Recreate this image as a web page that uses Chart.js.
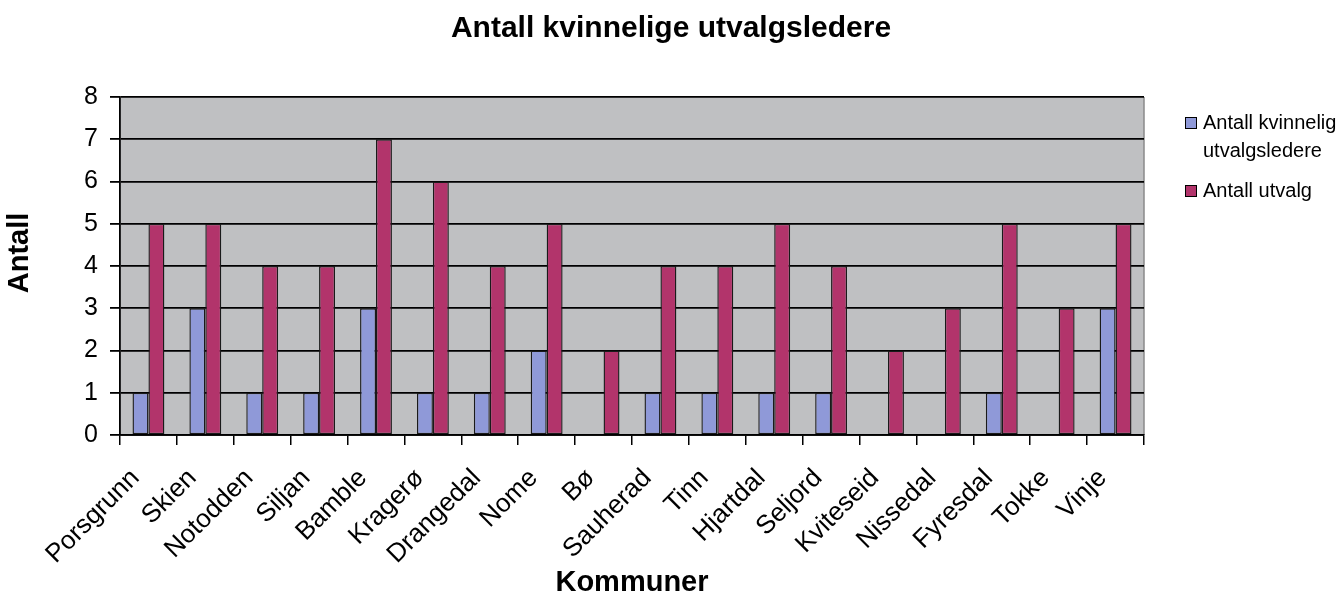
<!DOCTYPE html>
<html>
<head>
<meta charset="utf-8">
<script src="https://cdn.jsdelivr.net/npm/chart.js@4/dist/chart.umd.min.js"></script>
<style>
  html, body { margin: 0; padding: 0; background: #fff; }
  #wrap { position: relative; width: 1342px; height: 598px; }
  #legend { position: absolute; left: 1184px; top: 108px; font-family: "Liberation Sans", Arial, sans-serif; font-size: 20px; color: #000; line-height: 28px; }
  .item { position: relative; padding-left: 19px; margin-bottom: 12px; }
  .box { position: absolute; left: 1px; top: 9px; width: 10px; height: 10px; border: 1px solid #000; }
</style>
</head>
<body>
<div id="wrap">
  <canvas id="c" width="1342" height="598"></canvas>
  <div id="legend"></div>
</div>
<script>
const categories = ["Porsgrunn","Skien","Notodden","Siljan","Bamble","Kragerø","Drangedal","Nome","Bø","Sauherad","Tinn","Hjartdal","Seljord","Kviteseid","Nissedal","Fyresdal","Tokke","Vinje"];
const seriesNames = ["Antall kvinnelig utvalgsledere", "Antall utvalg"];
const kvinneligeLedere = [1,3,1,1,3,1,1,2,0,1,1,1,1,0,0,1,0,3];
const antallUtvalg = [5,5,4,4,7,6,4,5,2,4,4,5,4,2,3,5,3,5];
const yTicks = [0,1,2,3,4,5,6,7,8];

const colors = ["#8f99d8", "#b2346b"];
const legendLines = [["Antall kvinnelig", "utvalgsledere"], ["Antall utvalg"]];
const yTitle = 'Antall';

const plotBg = {
  id: 'plotBg',
  beforeInit(chart) {
    // reserve room on the right for the legend without shifting the centred title
    Chart.layouts.addBox(chart, {
      position: 'right', weight: 100, fullSize: false, options: {},
      left: 0, top: 0, right: 0, bottom: 0, width: 0, height: 0,
      update(maxW, maxH) { this.width = 198; this.height = maxH; },
      isHorizontal() { return false; },
      draw() {}
    });
  },
  beforeDraw(chart) {
    const {ctx, chartArea: a} = chart;
    ctx.save();
    ctx.fillStyle = '#bfc0c2';
    ctx.fillRect(a.left, a.top, a.right - a.left, a.bottom - a.top);
    ctx.strokeStyle = '#8a8a8a';
    ctx.lineWidth = 1.5;
    ctx.beginPath();
    ctx.moveTo(a.right, a.top); ctx.lineTo(a.right, a.bottom);
    ctx.stroke();
    ctx.restore();
  },
  afterDraw(chart) {
    // vertical axis title, placed slightly above the plot's centre as in the original
    const {ctx, chartArea: a} = chart;
    ctx.save();
    ctx.translate(20, (a.top + a.bottom) / 2 - 13);
    ctx.rotate(-Math.PI / 2);
    ctx.font = 'bold 29px "Liberation Sans", Arial, sans-serif';
    ctx.fillStyle = '#000';
    ctx.textAlign = 'center';
    ctx.textBaseline = 'middle';
    ctx.fillText(yTitle, 0, 0);
    ctx.restore();
  }
};

Chart.defaults.font.family = '"Liberation Sans", Arial, sans-serif';
Chart.defaults.color = '#000';

new Chart(document.getElementById('c'), {
  type: 'bar',
  data: {
    labels: categories,
    datasets: [
      { label: seriesNames[0], data: kvinneligeLedere, backgroundColor: colors[0], borderColor: '#1a1a1a', borderWidth: 1.4, borderSkipped: false },
      { label: seriesNames[1], data: antallUtvalg, backgroundColor: colors[1], borderColor: '#1a1a1a', borderWidth: 1.4, borderSkipped: false }
    ]
  },
  options: {
    responsive: false,
    animation: false,
    categoryPercentage: 0.56,
    barPercentage: 1.0,
    layout: { padding: { left: 0, right: 0, top: 4, bottom: 0 } },
    plugins: {
      legend: { display: false },
      tooltip: { enabled: false },
      title: { display: true, text: 'Antall kvinnelige utvalgsledere', font: { size: 30, weight: 'bold' }, color: '#000', padding: { top: 7, bottom: 50 } }
    },
    scales: {
      y: {
        min: 0, max: 8,
        afterBuildTicks(axis) { axis.ticks = yTicks.map(v => ({ value: v })); },
        afterFit(scale) { scale.width = 120; },
        ticks: { font: { size: 25 }, color: '#000', padding: 12 },
        grid: { color: '#000', lineWidth: 1.8, tickLength: 10 },
        border: { display: true, color: '#000', width: 1.8 },
        title: { display: false }
      },
      x: {
        afterFit(scale) { scale.height = 163; },
        grid: { offset: true, drawOnChartArea: false, color: '#000', lineWidth: 1.5, tickLength: 10 },
        border: { display: true, color: '#000', width: 1.8 },
        ticks: { maxRotation: 45, minRotation: 45, font: { size: 26 }, color: '#000', padding: 18, labelOffset: -13 },
        title: { display: true, text: 'Kommuner', font: { size: 29, weight: 'bold' }, color: '#000', padding: { top: 0, bottom: -2 } }
      }
    }
  },
  plugins: [plotBg]
});

const leg = document.getElementById('legend');
legendLines.forEach((lines, i) => {
  const d = document.createElement('div');
  d.className = 'item';
  d.innerHTML = '<span class="box" style="background:' + colors[i] + '"></span>' + lines.join('<br>');
  leg.appendChild(d);
});
</script>
</body>
</html>
